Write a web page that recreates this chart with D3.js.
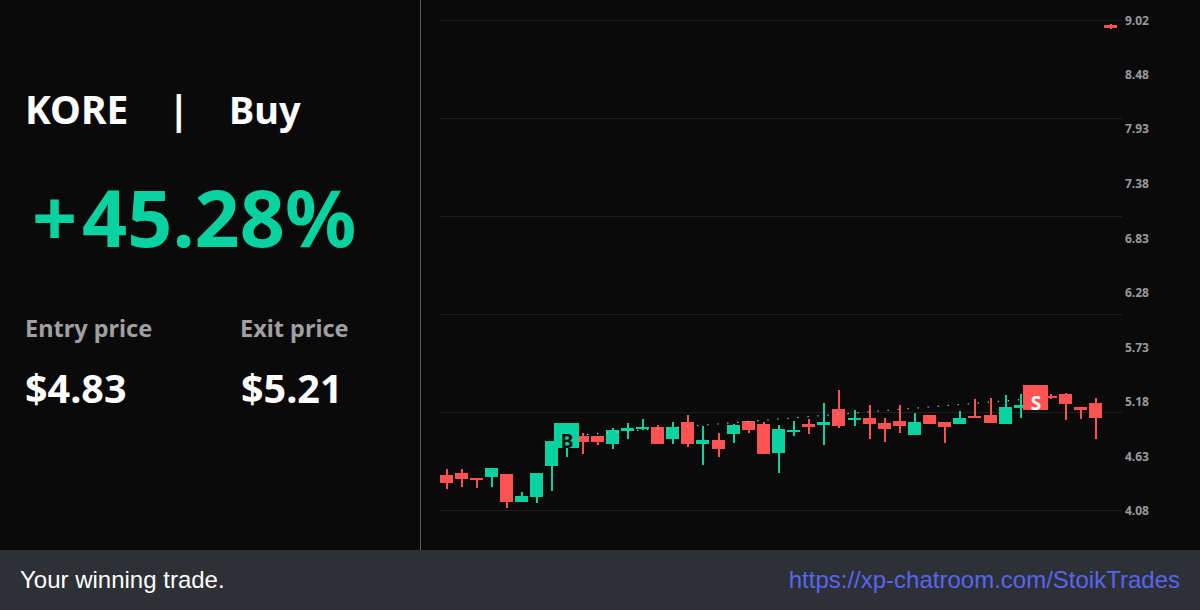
<!DOCTYPE html>
<html>
<head>
<meta charset="utf-8">
<script src="https://cdn.jsdelivr.net/npm/d3@7"></script>
<style>
html,body{margin:0;padding:0;background:#0a0a0a;overflow:hidden}
svg{display:block}
</style>
</head>
<body>
<svg id="c" width="1200" height="610"></svg>
<script>
const ticker = "KORE", side = "Buy", gainSign = "+", gainValue = "45.28%";
const entryLabel = "Entry price", exitLabel = "Exit price";
const entryPrice = 4.83, exitPrice = 5.21;
const entryIndex = 8, exitIndex = 39;
const footerLeft = "Your winning trade.", footerRight = "https://xp-chatroom.com/StoikTrades";
const tickValues = [9.02, 8.48, 7.93, 7.38, 6.83, 6.28, 5.73, 5.18, 4.63, 4.08];
const gridValues = [9.02, 8.032, 7.044, 6.056, 5.068, 4.08];

const opens  = [4.438,4.458,4.408,4.418,4.448,4.166,4.216,4.529,4.71,4.831,4.831,4.75,4.882,4.902,4.922,4.801,4.972,4.75,4.791,4.851,4.982,4.952,4.66,4.871,4.952,4.942,5.103,4.992,5.013,4.962,4.982,4.841,5.043,4.972,4.952,5.033,5.043,4.952,5.113,5.275,5.234,5.255,5.124,5.164,8.975];
const closes = [4.357,4.398,4.388,4.508,4.166,4.226,4.458,4.781,4.861,4.771,4.771,4.892,4.912,4.922,4.75,4.922,4.75,4.791,4.70,4.942,4.892,4.65,4.902,4.892,4.922,4.972,4.932,5.013,4.952,4.902,4.932,4.972,4.952,4.922,5.013,5.013,4.962,5.124,5.144,5.144,5.214,5.154,5.093,5.013,8.945];
const highs  = [4.498,4.498,4.408,4.508,4.448,4.267,4.458,4.781,4.912,4.861,4.831,4.912,4.962,5.003,4.942,4.972,5.043,4.932,4.861,4.952,4.982,4.972,4.942,4.982,5.003,5.164,5.295,5.093,5.144,5.013,5.144,5.063,5.043,4.972,5.083,5.204,5.214,5.244,5.255,5.295,5.255,5.265,5.124,5.214,8.985];
const lows   = [4.297,4.317,4.307,4.317,4.105,4.166,4.156,4.277,4.619,4.65,4.74,4.70,4.801,4.892,4.75,4.75,4.72,4.539,4.619,4.761,4.861,4.65,4.458,4.831,4.851,4.74,4.912,4.932,4.801,4.771,4.861,4.841,4.952,4.761,4.952,5.013,4.962,4.952,5.013,5.113,5.204,4.992,5.003,4.801,8.935];

const GREEN = "#08d2a0", RED = "#ff5252", BG = "#0a0a0a";
const SANS = "'Noto Sans', 'Open Sans', sans-serif";
const ARIAL = "'Liberation Sans', Arial, sans-serif";

const svg = d3.select("#c");
svg.append("rect").attr("width",1200).attr("height",610).attr("fill",BG);

const x = d3.scaleLinear().domain([0, opens.length - 1]).range([446.1, 1110.94]);
const y = d3.scaleLinear().domain([4.08, 9.02]).range([510.5, 20.5]);
const left = i => Math.round(x(i) - 6.5);

// gridlines
const grid = svg.append("g").attr("transform","translate(1122,0)")
  .call(d3.axisLeft(y).offset(0).tickValues(gridValues).tickSize(682).tickFormat(""));
grid.select(".domain").remove();
grid.selectAll("line").attr("stroke","#1e1e1e").attr("stroke-width",1);

// price labels
const axis = svg.append("g").attr("transform","translate(1125,1)")
  .call(d3.axisRight(y).offset(0).tickValues(tickValues).tickSize(0).tickPadding(0).tickFormat(d3.format(".2f")));
axis.select(".domain").remove();
axis.selectAll("text").attr("fill","#9a9a9a").attr("font-family",SANS)
  .attr("font-size",12).attr("font-weight",700);

// candles
const idx = d3.range(opens.length);
const color = i => closes[i] >= opens[i] ? GREEN : RED;
const gc = svg.append("g");
gc.selectAll("rect.w").data(idx).join("rect").attr("class","w")
  .attr("x", i => left(i) + 6).attr("width", 2)
  .attr("y", i => Math.round(y(highs[i])))
  .attr("height", i => Math.round(y(lows[i])) - Math.round(y(highs[i])))
  .attr("fill", color);
gc.selectAll("rect.b").data(idx).join("rect").attr("class","b")
  .attr("x", left).attr("width", 13)
  .attr("y", i => Math.round(y(Math.max(opens[i],closes[i]))))
  .attr("height", i => Math.max(2, Math.round(y(Math.min(opens[i],closes[i]))) - Math.round(y(Math.max(opens[i],closes[i])))))
  .attr("fill", color);

// trade line
svg.append("path")
  .attr("d", d3.line().x(d => x(d[0])).y(d => y(d[1]))([[entryIndex, entryPrice],[exitIndex, exitPrice]]))
  .attr("fill","none").attr("stroke","#cfcfcf").attr("stroke-width",1.2).attr("stroke-dasharray","1.2 8.85");

// markers
function marker(i, p, label, fill, tc) {
  const bx = left(i) - 6, by = Math.floor(y(p) - 12.5);
  svg.append("rect").attr("x",bx).attr("y",by).attr("width",25).attr("height",25).attr("fill",fill);
  svg.append("text").attr("x",bx+13).attr("y",by+24.5).attr("text-anchor","middle")
    .attr("font-family",SANS).attr("font-weight",700).attr("font-size",19).attr("fill",tc).text(label);
}
marker(entryIndex, entryPrice, "B", GREEN, BG);
marker(exitIndex, exitPrice, "S", RED, "#ffffff");

// left panel
svg.append("line").attr("x1",420.5).attr("x2",420.5).attr("y1",0).attr("y2",550).attr("stroke","#5a5a5a");
const T = (px,py,s,size,fill,w,fam) => svg.append("text").attr("x",px).attr("y",py).attr("font-family",fam||SANS)
  .attr("font-size",size).attr("font-weight",w||700).attr("fill",fill).text(s);
T(25,124,ticker,39,"#fff");
T(168,124,"|",39,"#fff");
T(229,124,side,38,"#fff");
T(32,247,gainSign,79,GREEN);
T(82,247,gainValue,79,GREEN);
T(25,337,entryLabel,23.5,"#a0a0a0");
T(240,337,exitLabel,23.5,"#a0a0a0");
T(25,403,"$"+entryPrice.toFixed(2),39.5,"#fff");
T(241,403,"$"+exitPrice.toFixed(2),39.5,"#fff");

// footer
svg.append("rect").attr("x",0).attr("y",550).attr("width",1200).attr("height",60).attr("fill","#2d3035");
T(20,588,footerLeft,24,"#ffffff",400,ARIAL);
T(1180,588,footerRight,24,"#5865f2",400,ARIAL).attr("text-anchor","end");
</script>
</body>
</html>
